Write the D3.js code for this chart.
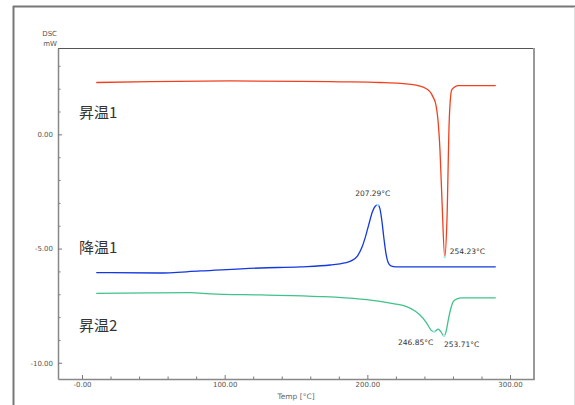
<!DOCTYPE html>
<html>
<head>
<meta charset="UTF-8">
<script src="https://cdn.jsdelivr.net/npm/d3@7/dist/d3.min.js"></script>
<style>
  body { margin: 0; background: #fff; }
  svg { display: block; }
  .tick text { font-family: "DejaVu Sans", sans-serif; font-size: 7px; fill: #555; }
</style>
</head>
<body>
<svg id="chart" width="575" height="405"></svg>
<script>
// heating 1 (red)
var heat1T = [10, 48, 104, 153, 181, 209, 223, 237, 244, 246, 248.1, 249.5, 250.9, 252.3, 254.23, 255.8, 257.4, 259.1, 260.7, 263.5, 272, 290];
var heat1V = [2.27, 2.31, 2.34, 2.32, 2.30, 2.27, 2.23, 2.11, 1.86, 1.64, 1.28, 0.63, -0.69, -2.87, -5.37, -3.74, 0.63, 1.94, 2.05, 2.13, 2.13, 2.13];
// cooling 1 (blue)
var cool1T = [10, 53, 83, 125, 153, 174, 184, 189, 193, 196, 198.5, 201, 203.5, 205.5, 207.29, 208.8, 210.2, 211.6, 213, 214.5, 216.5, 220, 258, 290];
var cool1V = [-6.05, -6.07, -5.98, -5.85, -5.80, -5.72, -5.63, -5.53, -5.33, -4.98, -4.52, -3.95, -3.40, -3.15, -3.09, -3.25, -3.80, -4.55, -5.20, -5.60, -5.76, -5.80, -5.80, -5.80];
// heating 2 (green)
var heat2T = [10, 48, 76, 90, 125, 167, 195, 209, 219, 227.5, 233.4, 236.9, 241.6, 244.6, 246.85, 249.7, 251.6, 253.71, 255.4, 256.7, 258.6, 260.2, 262.8, 266.3, 290];
var heat2V = [-6.96, -6.94, -6.93, -6.98, -7.03, -7.10, -7.21, -7.31, -7.42, -7.54, -7.73, -7.91, -8.26, -8.57, -8.64, -8.53, -8.65, -8.83, -8.57, -8.13, -7.60, -7.32, -7.20, -7.16, -7.16];

var seriesNames = ["昇温1", "降温1", "昇温2"];
var seriesColors = ["#f2401e", "#1238e0", "#3fc38a"];
var seriesLabelV = [0.71, -5.2, -8.61];

// peak annotations
var peakT = [207.29, 254.23, 246.85, 253.71];
var peakV = [-3.09, -5.37, -8.64, -8.83];
var peakText = ["207.29°C", "254.23°C", "246.85°C", "253.71°C"];
var peakAnchor = ["middle", "start", "end", "start"];
var peakDx = [-5, 5, -1, 0];
var peakDy = [-9, -3, 13, 11];

var xMajor = [0, 100, 200, 300];
var xMajorLabels = ["-0.00", "100.00", "200.00", "300.00"];
var yMajor = [0, -5, -10];
var yMajorLabels = ["0.00", "-5.00", "-10.00"];

var svg = d3.select("#chart");
var plotL = 58, plotR = 534, plotT = 48, plotB = 379;

var x = d3.scaleLinear().domain([-16.82, 316.8]).range([plotL, plotR]);
var y = d3.scaleLinear().domain([3.78, -10.71]).range([plotT, plotB]);

// outer frame
svg.append("line").attr("x1", 13).attr("x2", 575).attr("y1", 6.5).attr("y2", 6.5)
    .attr("stroke", "#777").attr("stroke-width", 2);
svg.append("line").attr("x1", 13.5).attr("x2", 13.5).attr("y1", 6).attr("y2", 405)
    .attr("stroke", "#777").attr("stroke-width", 2);
svg.append("line").attr("x1", 574.5).attr("x2", 574.5).attr("y1", 7).attr("y2", 405)
    .attr("stroke", "#ddd").attr("stroke-width", 1);

// plot frame top / right
svg.append("line").attr("x1", plotL).attr("x2", plotR).attr("y1", plotT + 0.5).attr("y2", plotT + 0.5)
    .attr("stroke", "#555").attr("stroke-width", 1);
svg.append("line").attr("x1", plotR).attr("x2", plotR).attr("y1", plotT).attr("y2", plotB + 1)
    .attr("stroke", "#999").attr("stroke-width", 2);

// minor ticks
var xMinor = d3.range(20, 301, 20).filter(function(d) { return xMajor.indexOf(d) < 0; });
var yMinor = d3.range(-10, 3.5, 1).filter(function(d) { return yMajor.indexOf(d) < 0; });

svg.append("g").attr("transform", "translate(0," + plotB + ")")
    .call(d3.axisBottom(x).tickValues(xMinor).tickSize(-2.5).tickFormat(""))
    .call(function(g) { g.select(".domain").remove(); g.selectAll("line").attr("stroke", "#777"); });
svg.append("g").attr("transform", "translate(" + plotL + ",0)")
    .call(d3.axisLeft(y).tickValues(yMinor).tickSize(-2.5).tickFormat(""))
    .call(function(g) { g.select(".domain").remove(); g.selectAll("line").attr("stroke", "#777"); });

// major axes
var xAxis = svg.append("g").attr("transform", "translate(0," + plotB + ")")
    .call(d3.axisBottom(x).tickValues(xMajor).tickSizeInner(-4).tickSizeOuter(0).tickPadding(3)
        .tickFormat(function(d, i) { return xMajorLabels[i]; }));
xAxis.select(".domain").attr("stroke", "#888").attr("stroke-width", 1.5);
xAxis.selectAll("line").attr("stroke", "#777");

var yAxis = svg.append("g").attr("transform", "translate(" + plotL + ",0)")
    .call(d3.axisLeft(y).tickValues(yMajor).tickSizeInner(-4).tickSizeOuter(0).tickPadding(5)
        .tickFormat(function(d, i) { return yMajorLabels[i]; }));
yAxis.select(".domain").attr("stroke", "#888").attr("stroke-width", 1.5);
yAxis.selectAll("line").attr("stroke", "#777");

// axis titles
svg.append("text").attr("x", 57).attr("y", 36).attr("text-anchor", "end")
    .style("font-family", "DejaVu Sans, sans-serif").style("font-size", "7px").attr("fill", "#555")
    .text("DSC");
svg.append("text").attr("x", 57).attr("y", 46).attr("text-anchor", "end")
    .style("font-family", "DejaVu Sans, sans-serif").style("font-size", "7px").attr("fill", "#555")
    .text("mW");
svg.append("text").attr("x", 296).attr("y", 399).attr("text-anchor", "middle")
    .style("font-family", "DejaVu Sans, sans-serif").style("font-size", "7.5px").attr("fill", "#666")
    .text("Temp  [°C]");

// curves
var series = [
    d3.zip(heat1T, heat1V),
    d3.zip(cool1T, cool1V),
    d3.zip(heat2T, heat2V)
];
var line = d3.line()
    .x(function(d) { return x(d[0]); })
    .y(function(d) { return y(d[1]); })
    .curve(d3.curveMonotoneX);

svg.append("g").selectAll("path")
    .data(series)
    .enter().append("path")
    .attr("d", line)
    .attr("fill", "none")
    .attr("stroke", function(d, i) { return seriesColors[i]; })
    .attr("stroke-width", 1.3);

// peak markers
svg.append("g").selectAll("circle")
    .data(peakT)
    .enter().append("circle")
    .attr("cx", function(d) { return x(d); })
    .attr("cy", function(d, i) { return y(peakV[i]); })
    .attr("r", 1.2)
    .attr("fill", "#9eeaf2");

// peak labels
svg.append("g").selectAll("text")
    .data(peakT)
    .enter().append("text")
    .attr("x", function(d, i) { return x(d) + peakDx[i]; })
    .attr("y", function(d, i) { return y(peakV[i]) + peakDy[i]; })
    .attr("text-anchor", function(d, i) { return peakAnchor[i]; })
    .style("font-family", "DejaVu Sans, sans-serif").style("font-size", "7.5px")
    .attr("fill", "#333")
    .text(function(d, i) { return peakText[i]; });

// series labels
svg.append("g").selectAll("text")
    .data(seriesNames)
    .enter().append("text")
    .attr("x", x(-2.1))
    .attr("y", function(d, i) { return y(seriesLabelV[i]); })
    .style("font-family", "Noto Sans CJK JP, sans-serif").style("font-size", "15px")
    .attr("fill", "#333")
    .text(function(d) { return d; });
</script>
</body>
</html>
